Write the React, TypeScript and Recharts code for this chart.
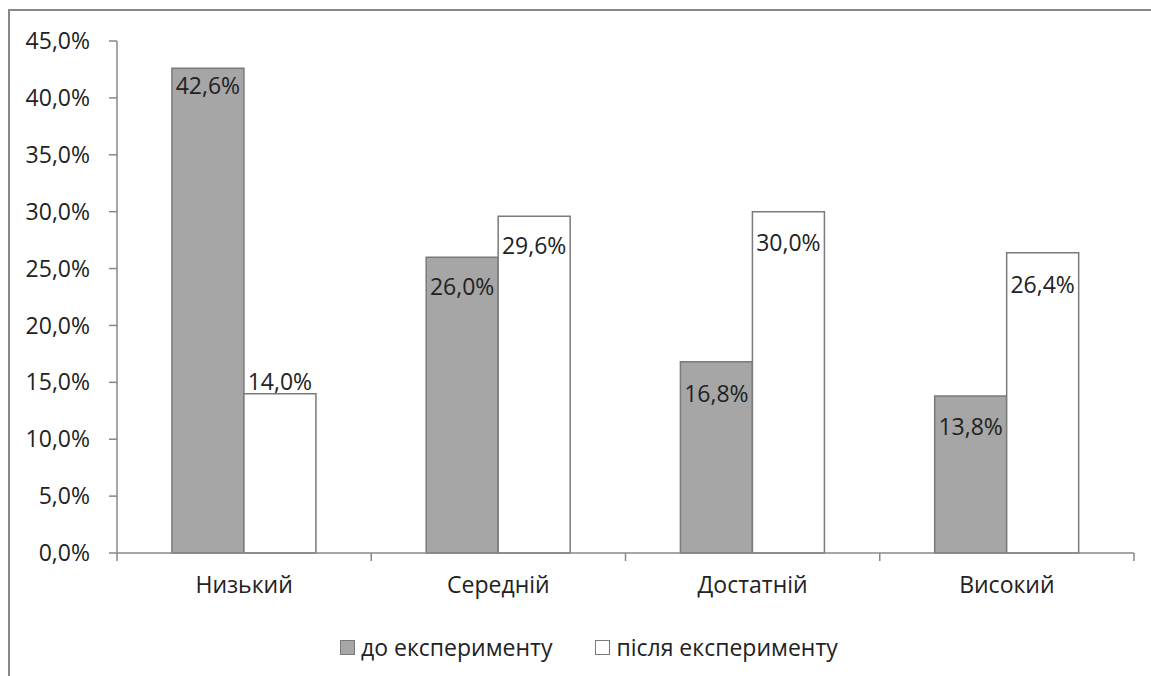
import { BarChart, Bar, XAxis, YAxis, LabelList } from "recharts";

const categories = ["Низький", "Середній", "Достатній", "Високий"];
const beforeValues = [42.6, 26.0, 16.8, 13.8];
const afterValues = [14.0, 29.6, 30.0, 26.4];
const yTicks = [0, 5, 10, 15, 20, 25, 30, 35, 40, 45];

const seriesNames = ["до експерименту", "після експерименту"];

// label placement relative to the bar top (px), as the labels sit in the picture
const beforeLabelDy = [17, 29, 31, 30];
const afterLabelDy = [-13, 29, 30, 31];

const FONT = "'Open Sans', sans-serif";
const TEXT = "#222";
const AXIS = "#888";
const GRAY = "#a6a6a6";
const EDGE = "#7a7a7a";

const W = 1151;
const H = 676;
const PLOT_LEFT = 117;
const PLOT_RIGHT = 1134;

const data = categories.map((name, i) => ({
  name,
  before: beforeValues[i],
  after: afterValues[i],
}));

const fmt = (v: number) => v.toFixed(1).replace(".", ",") + "%";

function makeLabel(dys: number[]) {
  return (props: any) => {
    const { x, y, width, value, index } = props;
    return (
      <text
        x={Number(x) + Number(width) / 2}
        y={Number(y) + dys[index]}
        textAnchor="middle"
        dominantBaseline="central"
        fill={TEXT}
        fontSize={23}
        fontFamily={FONT}
      >
        {fmt(Number(value))}
      </text>
    );
  };
}

function CategoryTick(props: any) {
  const { x, y, payload, index } = props;
  const half =
    payload?.offset || (PLOT_RIGHT - PLOT_LEFT) / categories.length / 2;
  const isLast = index === categories.length - 1;
  return (
    <g>
      <line x1={x - half} x2={x - half} y1={y} y2={y + 8} stroke={AXIS} strokeWidth={1.5} />
      {isLast && (
        <line x1={x + half} x2={x + half} y1={y} y2={y + 8} stroke={AXIS} strokeWidth={1.5} />
      )}
      <text
        x={x}
        y={y + 24}
        dy="0.71em"
        textAnchor="middle"
        fill={TEXT}
        fontSize={23}
        fontFamily={FONT}
      >
        {payload.value}
      </text>
    </g>
  );
}

function LegendBox() {
  const swatches = [GRAY, "#ffffff"];
  return (
    <div
      style={{
        position: "absolute",
        left: 340,
        top: 631,
        display: "flex",
        alignItems: "center",
        fontFamily: FONT,
        fontSize: 23,
        color: TEXT,
        whiteSpace: "nowrap",
      }}
    >
      {seriesNames.map((name, i) => (
        <div
          key={name}
          style={{ display: "flex", alignItems: "center", marginRight: i === 0 ? 43 : 0 }}
        >
          <span
            style={{
              display: "inline-block",
              width: 13,
              height: 13,
              background: swatches[i],
              border: `1.5px solid ${EDGE}`,
              marginRight: 6,
            }}
          />
          <span>{name}</span>
        </div>
      ))}
    </div>
  );
}

export default function App() {
  return (
    <div
      style={{
        position: "fixed",
        left: 0,
        top: 0,
        width: W,
        height: H,
        overflow: "hidden",
        background: "#fff",
      }}
    >
      <div
        style={{
          position: "absolute",
          left: 8,
          top: 9,
          width: 1200,
          height: 700,
          borderTop: `2px solid ${AXIS}`,
          borderLeft: `2px solid ${AXIS}`,
        }}
      />
      <div style={{ position: "absolute", left: 0, top: 0 }}>
        <BarChart
          width={W}
          height={H}
          data={data}
          margin={{ top: 41, right: W - PLOT_RIGHT, left: PLOT_LEFT - 60, bottom: 83 }}
          barCategoryGap="21.6%"
          barGap={0}
          style={{ fontFamily: FONT }}
        >
          <XAxis
            dataKey="name"
            height={40}
            tickSize={0}
            tickMargin={0}
            tickLine={false}
            axisLine={{ stroke: AXIS, strokeWidth: 1.5 }}
            tick={<CategoryTick />}
            interval={0}
          />
          <YAxis
            width={60}
            domain={[0, 45]}
            ticks={yTicks}
            interval={0}
            tickFormatter={fmt}
            tickSize={8}
            tickMargin={19}
            axisLine={{ stroke: AXIS, strokeWidth: 1.5 }}
            tickLine={{ stroke: AXIS, strokeWidth: 1.5 }}
            tick={{ fill: TEXT, fontSize: 23, fontFamily: FONT }}
          />
          <Bar
            dataKey="before"
            name={seriesNames[0]}
            fill={GRAY}
            stroke={EDGE}
            strokeWidth={1.5}
            isAnimationActive={false}
          >
            <LabelList dataKey="before" content={makeLabel(beforeLabelDy)} />
          </Bar>
          <Bar
            dataKey="after"
            name={seriesNames[1]}
            fill="#ffffff"
            stroke={EDGE}
            strokeWidth={1.5}
            isAnimationActive={false}
          >
            <LabelList dataKey="after" content={makeLabel(afterLabelDy)} />
          </Bar>
        </BarChart>
      </div>
      <LegendBox />
    </div>
  );
}
